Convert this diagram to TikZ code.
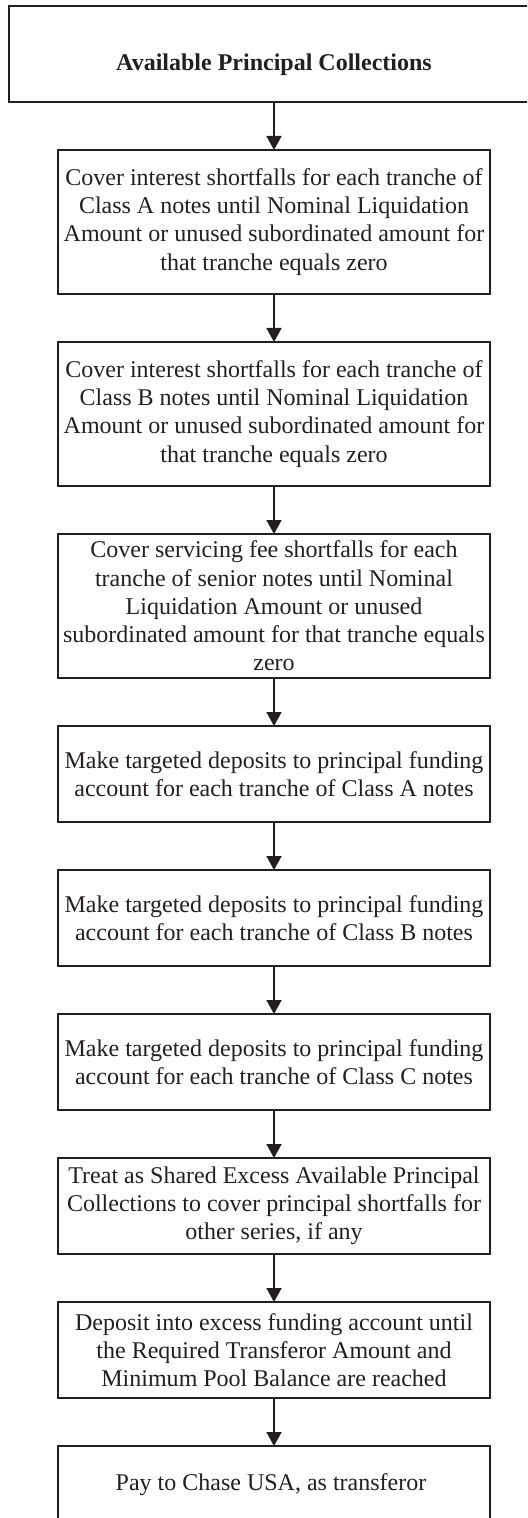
\documentclass[tikz,border=0pt]{standalone}
\usepackage{fontspec}
\setmainfont{Liberation Serif}
\usepackage{tikz}
\usetikzlibrary{arrows.meta}
\usetikzlibrary{positioning,calc}
\definecolor{ink}{HTML}{231F20}
\tikzset{
	stepbox/.style={
		rectangle,
		draw=ink, line width=0.9pt,
		text=ink,
		minimum width=216pt,
		minimum height=48pt,
		inner xsep=2pt,
		inner ysep=0pt,
		outer sep=0pt,
		align=center,
		font=\fontsize{12}{14.1}\selectfont,
	},
	tallbox/.style={
		stepbox,
		minimum height=72pt,
	},
}
\begin{document}
\begin{tikzpicture}[->,>={Triangle[width=7.5pt,length=7pt]},ink]

	% page frame, the picture is cut at the right and at the bottom
	\path[use as bounding box] (0pt,0pt) rectangle (263.5pt,-759pt);
	\begin{scope}
	\clip (0pt,0pt) rectangle (263.5pt,-759pt);

	% Position of the source
	\node[stepbox,
	minimum width=265pt,
	text height=17pt, text depth=0pt,
	font=\fontsize{12}{14.1}\selectfont\bfseries] (APC) at (137pt,-27pt)
	{Available Principal Collections};

	% the steps, one below the other
	\node[tallbox, below=24pt of APC] (SHORTA)
	{
		Cover interest shortfalls for each tranche of\\
		Class A notes until Nominal Liquidation\\
		Amount or unused subordinated amount for\\
		that tranche equals zero
	};

	\node[tallbox, below=24pt of SHORTA] (SHORTB)
	{
		Cover interest shortfalls for each tranche of\\
		Class B notes until Nominal Liquidation\\
		Amount or unused subordinated amount for\\
		that tranche equals zero
	};

	\node[tallbox, below=24pt of SHORTB] (FEE)
	{
		Cover servicing fee shortfalls for each\\
		tranche of senior notes until Nominal\\
		Liquidation Amount or unused\\
		subordinated amount for that tranche equals\\
		zero
	};

	\node[stepbox, below=24pt of FEE] (DEPA)
	{
		Make targeted deposits to principal funding\\
		account for each tranche of Class A notes
	};

	\node[stepbox, below=24pt of DEPA] (DEPB)
	{
		Make targeted deposits to principal funding\\
		account for each tranche of Class B notes
	};

	\node[stepbox, below=24pt of DEPB] (DEPC)
	{
		Make targeted deposits to principal funding\\
		account for each tranche of Class C notes
	};

	\node[stepbox, below=24pt of DEPC] (SHARED)
	{
		Treat as Shared Excess Available Principal\\
		Collections to cover principal shortfalls for\\
		other series, if any
	};

	\node[stepbox, below=24pt of SHARED] (EXCESS)
	{
		Deposit into excess funding account until\\
		the Required Transferor Amount and\\
		Minimum Pool Balance are reached
	};

	\node[stepbox, minimum height=39pt, below=24pt of EXCESS] (PAY)
	{
		Pay to Chase USA, as transferor
	};

	% draw the arrows between the steps
	\path[line width=0.9pt]
	(APC) 		edge	(SHORTA)
	(SHORTA) 	edge	(SHORTB)
	(SHORTB) 	edge	(FEE)
	(FEE) 		edge	(DEPA)
	(DEPA) 		edge	(DEPB)
	(DEPB) 		edge	(DEPC)
	(DEPC) 		edge	(SHARED)
	(SHARED) 	edge	(EXCESS)
	(EXCESS) 	edge	(PAY)
	; % END PATH
	\end{scope}

\end{tikzpicture}
\end{document}
